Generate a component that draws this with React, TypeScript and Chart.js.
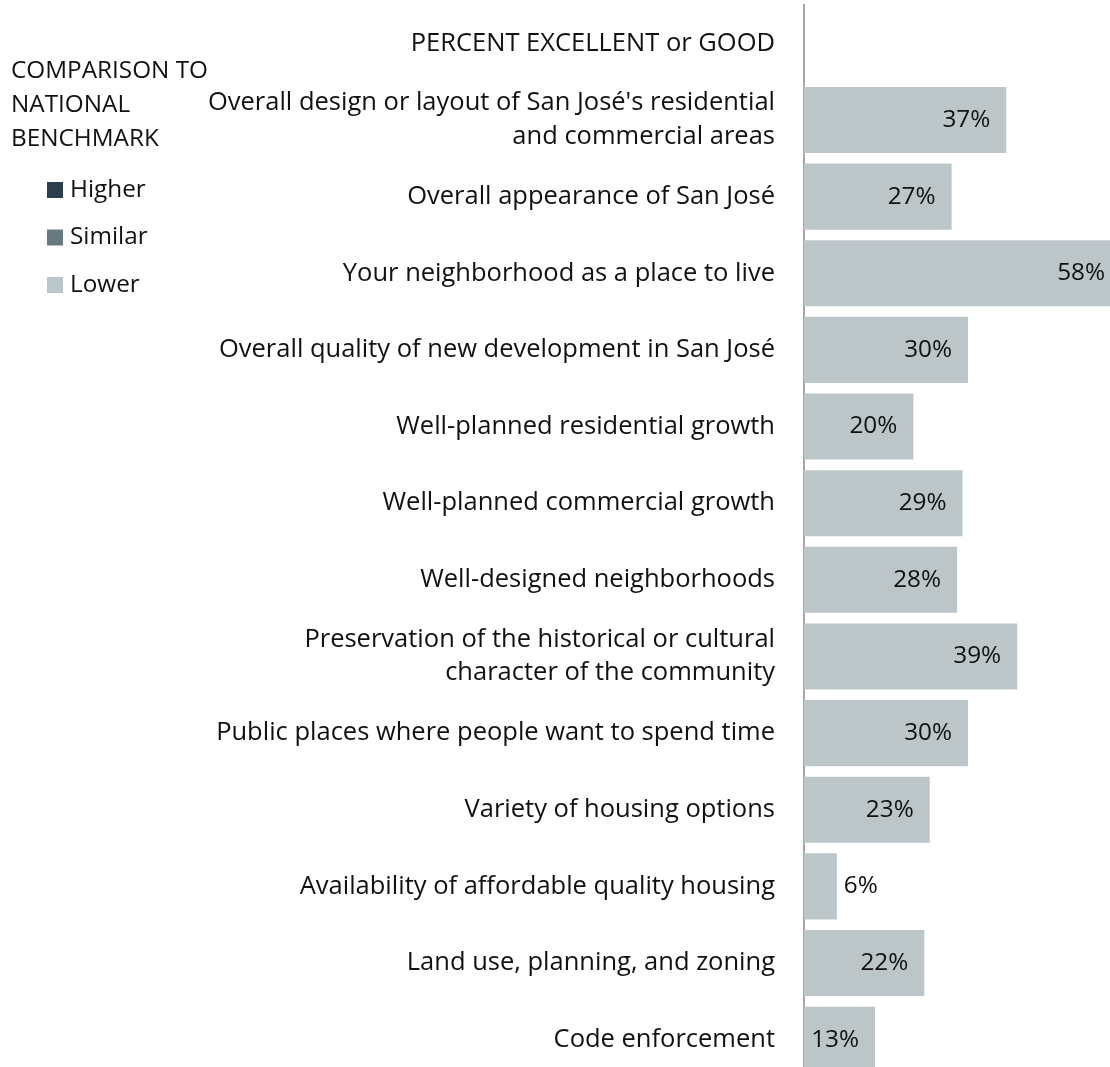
import React, { useEffect, useRef } from "react";
import { Chart, registerables } from "chart.js";

Chart.register(...registerables);

const headerLabel = "PERCENT EXCELLENT or GOOD";
const categories: (string | string[])[] = [
  ["Overall design or layout of San José's residential", "and commercial areas"],
  "Overall appearance of San José",
  "Your neighborhood as a place to live",
  "Overall quality of new development in San José",
  "Well-planned residential growth",
  "Well-planned commercial growth",
  "Well-designed neighborhoods",
  ["Preservation of the historical or cultural", "character of the community"],
  "Public places where people want to spend time",
  "Variety of housing options",
  "Availability of affordable quality housing",
  "Land use, planning, and zoning",
  "Code enforcement",
];
const higherValues: (number | null)[] = [null, null, null, null, null, null, null, null, null, null, null, null, null];
const similarValues: (number | null)[] = [null, null, null, null, null, null, null, null, null, null, null, null, null];
const lowerValues: (number | null)[] = [37, 27, 58, 30, 20, 29, 28, 39, 30, 23, 6, 22, 13];
const legendTitle = ["COMPARISON TO", "NATIONAL", "BENCHMARK"];

const FONT = "'Open Sans'";
const FS = 25.5;
const LEG_FS = 24.3;
const TEXT = "#111111";

const legendPlugin = {
  id: "benchLegend",
  afterDraw(chart: any) {
    const ctx = chart.ctx;
    ctx.save();
    ctx.font = `${LEG_FS}px ${FONT}`;
    ctx.fillStyle = TEXT;
    ctx.textAlign = "left";
    ctx.textBaseline = "middle";
    legendTitle.forEach((t, i) => ctx.fillText(t, 11, 71 + i * 34));
    chart.data.datasets.forEach((ds: any, i: number) => {
      const cy = 190 + i * 47.5;
      ctx.fillStyle = ds.backgroundColor;
      ctx.fillRect(47, cy - 8, 16, 16);
      ctx.fillStyle = TEXT;
      ctx.fillText(ds.label, 70, cy);
    });
    ctx.restore();
  },
};

const valueLabelPlugin = {
  id: "valueLabels",
  afterDatasetsDraw(chart: any) {
    const ctx = chart.ctx;
    ctx.save();
    ctx.font = `${LEG_FS}px ${FONT}`;
    ctx.fillStyle = TEXT;
    ctx.textBaseline = "middle";
    chart.data.datasets.forEach((ds: any, di: number) => {
      const meta = chart.getDatasetMeta(di);
      meta.data.forEach((bar: any, i: number) => {
        const v = ds.data[i];
        if (v == null) return;
        const txt = `${v}%`;
        const w = ctx.measureText(txt).width;
        const len = bar.x - bar.base;
        if (len >= w + 20) {
          ctx.textAlign = "right";
          ctx.fillText(txt, bar.x - 16, bar.y);
        } else {
          ctx.textAlign = "left";
          ctx.fillText(txt, bar.x + 7, bar.y);
        }
      });
    });
    ctx.restore();
  },
};

export default function App() {
  const ref = useRef<HTMLCanvasElement>(null);
  useEffect(() => {
    if (!ref.current) return;
    const labels = [headerLabel, ...categories];
    const chart = new Chart(ref.current, {
      type: "bar",
      data: {
        labels,
        datasets: [
          { label: "Higher", data: [null, ...higherValues], backgroundColor: "#2c3e4c" },
          { label: "Similar", data: [null, ...similarValues], backgroundColor: "#687a80" },
          { label: "Lower", data: [null, ...lowerValues], backgroundColor: "#bcc5c8" },
        ],
      },
      options: {
        indexAxis: "y",
        responsive: false,
        animation: false,
        devicePixelRatio: 1,
        layout: { padding: { top: 5, right: 0, bottom: 0, left: 0 } },
        datasets: { bar: { categoryPercentage: 1, barPercentage: 0.862 } },
        plugins: { legend: { display: false }, tooltip: { enabled: false } },
        scales: {
          x: { display: false, stacked: true, min: 0, max: 60 },
          y: {
            stacked: true,
            grid: { display: false, drawTicks: false },
            border: { display: true, color: "#a6a6a6", width: 2 },
            ticks: {
              autoSkip: false,
              padding: 29,
              color: TEXT,
              font: { family: FONT, size: FS, lineHeight: 33.5 / FS },
            },
            afterFit(scale: any) {
              scale.width = 804;
              scale.paddingTop = 0;
              scale.paddingBottom = 0;
            },
          },
        },
      } as any,
      plugins: [legendPlugin, valueLabelPlugin],
    });
    return () => chart.destroy();
  }, []);
  return (
    <div style={{ position: "fixed", left: 0, top: 0, width: 1110, height: 1067, overflow: "hidden", background: "#fff" }}>
      <canvas ref={ref} width={1132} height={1078} />
    </div>
  );
}
